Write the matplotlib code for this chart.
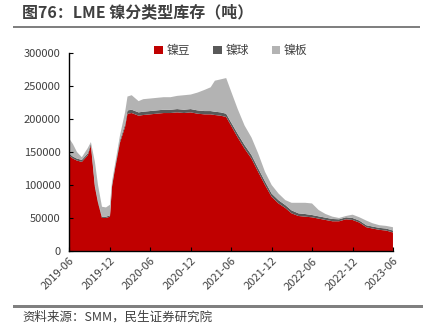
import matplotlib
matplotlib.use("Agg")
import matplotlib.pyplot as plt
import matplotlib.dates as mdates
from matplotlib.patches import Rectangle
import numpy as np
import pandas as pd

plt.rcParams['font.family'] = ['Noto Sans CJK SC', 'DejaVu Sans']

# data (tonnes)
dates = ["2019-06-01", "2019-06-19", "2019-07-07", "2019-07-29", "2019-08-25", "2019-09-08",
         "2019-09-26", "2019-10-10", "2019-10-28", "2019-11-15", "2019-12-03", "2019-12-12",
         "2019-12-25", "2020-01-17", "2020-02-09", "2020-02-20", "2020-03-10", "2020-04-10",
         "2020-05-01", "2020-06-01",
         "2020-07-01", "2020-08-01", "2020-09-01", "2020-10-01", "2020-11-01", "2020-12-01",
         "2021-01-01", "2021-02-01", "2021-03-01", "2021-03-20", "2021-04-15", "2021-05-10",
         "2021-06-01", "2021-07-01", "2021-08-01", "2021-09-01", "2021-10-01", "2021-11-01",
         "2021-12-01", "2022-01-01", "2022-02-01", "2022-03-01", "2022-04-01", "2022-05-01",
         "2022-06-01", "2022-07-01", "2022-08-01", "2022-09-01", "2022-10-01", "2022-11-01",
         "2022-12-01", "2023-01-01", "2023-02-01", "2023-03-01", "2023-04-01", "2023-05-01",
         "2023-06-01"]
bean = [145000, 140000, 137000, 135000, 145000, 160000,
        97000, 73000, 50000, 50000, 52000, 97000,
        123000, 164000, 188000, 208000, 209000, 205000,
        206000, 207000,
        208000, 209000, 209000, 210000, 209000, 210000,
        208000, 207000, 207000, 206000, 205000, 203000,
        190000, 172000, 155000, 140000, 120000, 100000,
        82000, 72000, 65000, 57000, 53000, 52000,
        51000, 49000, 47000, 45000, 45000, 48000,
        47000, 43000, 36000, 34000, 32000, 31000,
        28000]
ball = [3000, 3000, 3000, 3000, 3000, 3000,
        2500, 2500, 2000, 2000, 2000, 2500,
        3000, 3500, 4000, 5000, 5000, 5000,
        5000, 5000,
        5000, 5000, 5000, 5000, 5000, 5000,
        5000, 5000, 5000, 5000, 5000, 5000,
        5000, 5500, 5500, 5500, 5500, 5500,
        5000, 5000, 4500, 4500, 4000, 4000,
        3500, 3500, 3500, 3500, 3000, 3000,
        3000, 3000, 3000, 3000, 3000, 3000,
        3000]
total = [171000, 162000, 150000, 142000, 156000, 165000,
         135000, 100000, 67000, 66000, 70000, 105000,
         130000, 175000, 210000, 234000, 236000, 227000,
         230000, 231000,
         232000, 233000, 233000, 235000, 236000, 237000,
         240000, 244000, 248000, 258000, 260000, 262000,
         242000, 215000, 190000, 172000, 148000, 120000,
         100000, 87000, 77000, 73000, 73000, 73000,
         72000, 62000, 56000, 52000, 50000, 53000,
         55000, 51000, 46000, 42000, 39000, 38000,
         36000]

x = pd.to_datetime(dates)
bean = np.array(bean)
ball = np.array(ball)
plate = np.array(total) - bean - ball

fig = plt.figure(figsize=(4.23, 3.23), dpi=100)

# rule lines above and below the chart
fig.patches.append(Rectangle((0.031, 0.914), 0.962, 0.0065, transform=fig.transFigure,
                             facecolor="#808080", edgecolor="none", figure=fig))
fig.patches.append(Rectangle((0.031, 0.047), 0.969, 0.008, transform=fig.transFigure,
                             facecolor="#808080", edgecolor="none", figure=fig))

ax = fig.add_axes([0.163, 0.223, 0.766, 0.613])

ax.stackplot(x, bean, ball, plate, colors=["#C00000", "#595959", "#B3B3B3"],
             labels=["镍豆", "镍球", "镍板"], linewidth=0)

ax.set_xlim(pd.Timestamp("2019-06-01"), pd.Timestamp("2023-06-01"))
ax.set_ylim(0, 300000)
ax.set_yticks(np.arange(0, 300001, 50000))
ticks = pd.date_range("2019-06-01", "2023-06-01", freq="6MS")
ax.set_xticks(ticks)
ax.xaxis.set_major_formatter(mdates.DateFormatter("%Y-%m"))
plt.setp(ax.get_xticklabels(), rotation=45, ha="right", rotation_mode="anchor")

for s in ["top", "right"]:
    ax.spines[s].set_visible(False)
ax.spines["left"].set_color("black")
ax.spines["bottom"].set_color("black")
ax.spines["left"].set_linewidth(1.0)
ax.spines["bottom"].set_linewidth(1.0)
ax.tick_params(axis="both", direction="in", length=3, labelsize=8, labelcolor="#404040", color="black")
ax.tick_params(axis="y", pad=6)

leg = ax.legend(loc="upper center", bbox_to_anchor=(0.5, 1.1), ncol=3, frameon=False,
                fontsize=8.5, handlelength=0.7, handleheight=0.7, columnspacing=2.0,
                handletextpad=0.3, labelcolor="#404040")

fig.text(0.052, 0.963, "图76：LME 镍分类型库存（吨）", fontsize=11.5, fontweight="bold",
         color="#404040", va="center")
fig.text(0.052, 0.018, "资料来源：SMM，民生证券研究院", fontsize=9, color="#404040", va="center")

fig.savefig("out.png", dpi=100)
